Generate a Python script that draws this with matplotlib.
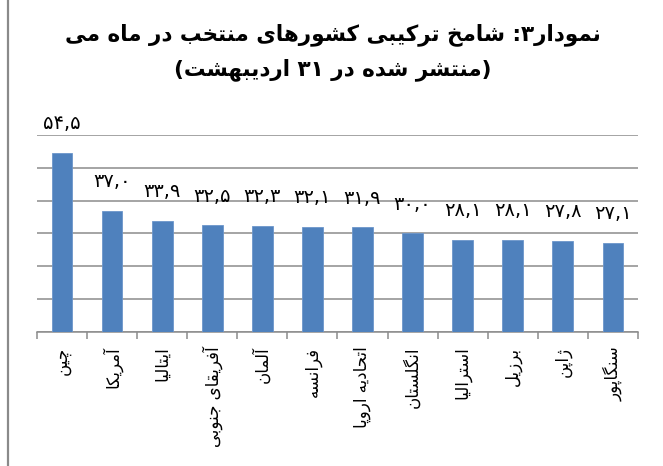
import re
import matplotlib
matplotlib.use('Agg')
import matplotlib.pyplot as plt

# data
countries = ['چین', 'آمریکا', 'ایتالیا', 'آفریقای جنوبی', 'آلمان', 'فرانسه',
             'اتحادیه اروپا', 'انگلستان', 'استرالیا', 'برزیل', 'ژاپن', 'سنگاپور']
values = [54.5, 37.0, 33.9, 32.5, 32.3, 32.1, 31.9, 30.0, 28.1, 28.1, 27.8, 27.1]
title_lines = ['نمودار۳: شامخ ترکیبی کشورهای منتخب در ماه می',
               '(منتشر شده در ۳۱ اردیبهشت)']

# isolated, final, initial, medial
FORMS = {
    'ا': ('\uFE8D', '\uFE8E'), 'آ': ('\uFE81', '\uFE82'),
    'د': ('\uFEA9', '\uFEAA'), 'ر': ('\uFEAD', '\uFEAE'),
    'ز': ('\uFEAF', '\uFEB0'), 'و': ('\uFEED', '\uFEEE'),
    'ژ': ('\uFB8A', '\uFB8B'),
    'ب': ('\uFE8F', '\uFE90', '\uFE91', '\uFE92'),
    'ت': ('\uFE95', '\uFE96', '\uFE97', '\uFE98'),
    'ج': ('\uFE9D', '\uFE9E', '\uFE9F', '\uFEA0'),
    'ح': ('\uFEA1', '\uFEA2', '\uFEA3', '\uFEA4'),
    'خ': ('\uFEA5', '\uFEA6', '\uFEA7', '\uFEA8'),
    'س': ('\uFEB1', '\uFEB2', '\uFEB3', '\uFEB4'),
    'ش': ('\uFEB5', '\uFEB6', '\uFEB7', '\uFEB8'),
    'ف': ('\uFED1', '\uFED2', '\uFED3', '\uFED4'),
    'ق': ('\uFED5', '\uFED6', '\uFED7', '\uFED8'),
    'ل': ('\uFEDD', '\uFEDE', '\uFEDF', '\uFEE0'),
    'م': ('\uFEE1', '\uFEE2', '\uFEE3', '\uFEE4'),
    'ن': ('\uFEE5', '\uFEE6', '\uFEE7', '\uFEE8'),
    'ه': ('\uFEE9', '\uFEEA', '\uFEEB', '\uFEEC'),
    'پ': ('\uFB56', '\uFB57', '\uFB58', '\uFB59'),
    'چ': ('\uFB7A', '\uFB7B', '\uFB7C', '\uFB7D'),
    'ک': ('\uFB8E', '\uFB8F', '\uFB90', '\uFB91'),
    'گ': ('\uFB92', '\uFB93', '\uFB94', '\uFB95'),
    'ی': ('\uFBFC', '\uFBFD', '\uFBFE', '\uFBFF'),
}


def fa(text):
    # shape letters, then lay out right-to-left
    out = []
    for i, c in enumerate(text):
        if c not in FORMS:
            out.append(c)
            continue
        prev = text[i - 1] if i > 0 else ''
        nxt = text[i + 1] if i + 1 < len(text) else ''
        jp = prev in FORMS and len(FORMS[prev]) == 4
        jn = len(FORMS[c]) == 4 and nxt in FORMS
        f = FORMS[c]
        if jp and jn:
            out.append(f[3])
        elif jp:
            out.append(f[1])
        elif jn:
            out.append(f[2])
        else:
            out.append(f[0])
    s = ''.join(out)[::-1]
    s = re.sub('[۰-۹]+', lambda m: m.group()[::-1], s)
    return s.translate(str.maketrans('()', ')('))


def fa_num(v):
    return f'{v:.1f}'.replace('.', ',').translate(str.maketrans('0123456789', '۰۱۲۳۴۵۶۷۸۹'))


plt.rcParams['font.family'] = ['DejaVu Sans']

fig = plt.figure(figsize=(6.63, 4.66), dpi=100)
ax = fig.add_axes([0.056, 0.288, 0.906, 0.422])

x = list(range(len(values)))
ax.bar(x, values, width=0.41, color='#4F81BD', edgecolor='#6C96CB', linewidth=0.6, zorder=3)
for xi, v in zip(x, values):
    ax.annotate(fa_num(v), (xi, v), xytext=(0, 21), textcoords='offset points',
                ha='center', va='center', fontsize=14)

ax.set_xlim(-0.5, len(values) - 0.5)
ax.set_ylim(0, 60)
ax.set_yticks(range(0, 61, 10))
ax.yaxis.grid(True, color='#8C8C8C', linewidth=1.1, zorder=0)
ax.tick_params(axis='y', left=False, labelleft=False)

ax.set_xticks([i - 0.5 for i in range(len(values) + 1)])
ax.set_xticklabels([])
ax.tick_params(axis='x', direction='out', length=5, width=1.1, color='#8C8C8C')
for xi, name in zip(x, countries):
    ax.text(xi, -4.5, fa(name), rotation=90, ha='center', va='top', fontsize=12)

for side in ['left', 'right', 'top']:
    ax.spines[side].set_visible(False)
ax.spines['bottom'].set_color('#8C8C8C')
ax.spines['bottom'].set_linewidth(1.1)

fig.text(0.502, 0.925, fa(title_lines[0]), ha='center', va='center',
         fontsize=15.5, fontweight='bold')
fig.text(0.502, 0.85, fa(title_lines[1]), ha='center', va='center',
         fontsize=15.5, fontweight='bold')

fig.add_artist(plt.Line2D([0.012, 0.012], [0, 1], color='#8A8A8A', linewidth=1.6))

fig.savefig('out.png', dpi=100)
